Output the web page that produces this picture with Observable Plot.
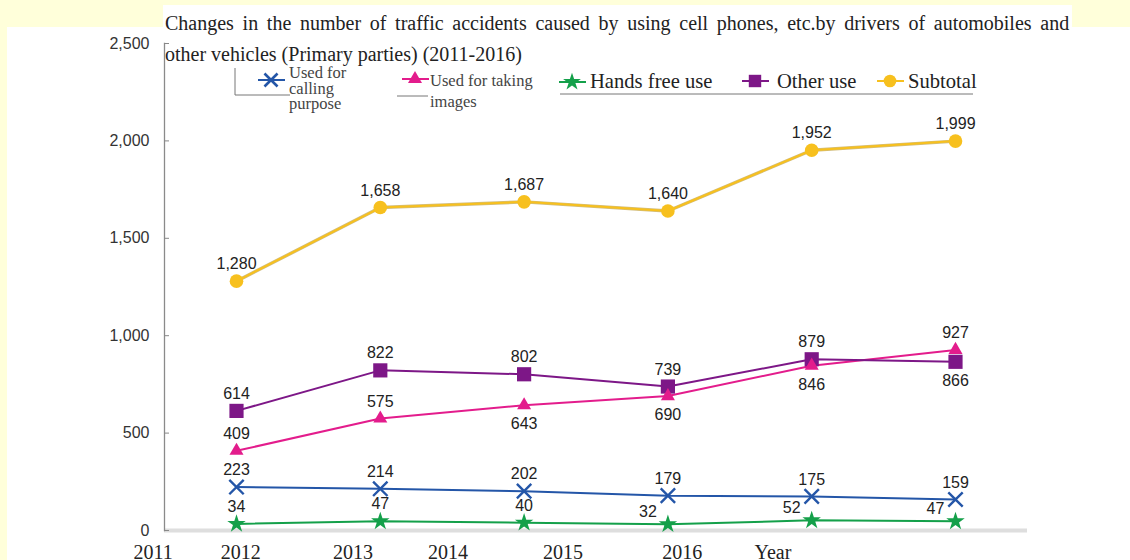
<!DOCTYPE html>
<html><head><meta charset="utf-8">
<script src="https://cdn.jsdelivr.net/npm/d3@7"></script>
<script src="https://cdn.jsdelivr.net/npm/@observablehq/plot@0.6"></script>
<style>
body{margin:0;background:#FFFFDA;}
#wrap{position:relative;width:1130px;height:560px;overflow:hidden;font-family:"Liberation Serif",serif;color:#222;}
.w1{position:absolute;left:7px;top:27px;width:1123px;height:533px;background:#fff}
.w2{position:absolute;left:163px;top:5px;width:909px;height:24px;background:#fff}
#title{position:absolute;left:165px;top:8px;font-size:20px;line-height:31px;white-space:nowrap;color:#222}
#title .l1{word-spacing:3.7px}
#chart{position:absolute;left:0;top:0}
#legend{position:absolute;left:0;top:0}
</style></head>
<body>
<div id="wrap">
  <div class="w1"></div><div class="w2"></div>
  <div id="title"><span class="l1">Changes in the number of traffic accidents caused by using cell phones, etc.by drivers of automobiles and</span><br>other vehicles (Primary parties) (2011-2016)</div>
  <div id="chart"></div>
  <div id="legend"></div>
</div>
<script>
// ---- data ----
const years = [2011, 2012, 2013, 2014, 2015, 2016];
const calling = [223, 214, 202, 179, 175, 159];
const images = [409, 575, 643, 690, 846, 927];
const handsFree = [34, 47, 40, 32, 52, 47];
const otherUse = [614, 822, 802, 739, 879, 866];
const subtotal = [1280, 1658, 1687, 1640, 1952, 1999];
const yTicks = [0, 500, 1000, 1500, 2000, 2500];
const xLabels = ["2011", "2012", "2013", "2014", "2015", "2016", "Year"];
const xLabelAt = [2010.42, 2011.03, 2011.81, 2012.47, 2013.27, 2014.10, 2014.73];
const seriesKeys = ["calling", "images", "handsFree", "otherUse", "subtotal"];
const seriesNames = ["Used for calling purpose", "Used for taking images", "Hands free use", "Other use", "Subtotal"];

// ---- presentation ----
const colors = ["#2456a8", "#e31c8c", "#14a04a", "#7d1787", "#f7c01e"];
const place = {
  calling: ["a","a","a","a","a","a"],
  images: ["a","a","b","b","b","a"],
  handsFree: ["a","a","a","l","l","l"],
  otherUse: ["a","a","a","a","a","b"],
  subtotal: ["a","a","a","a","a","a"]
};
const valuesByKey = {calling, images, handsFree, otherUse, subtotal};
const rows = [];
seriesKeys.forEach(k => valuesByKey[k].forEach((v, i) => rows.push({series: k, year: years[i], value: v, place: place[k][i]})));
const xRows = xLabels.map((label, i) => ({label, at: xLabelAt[i]}));
const fmt = d3.format(",");
const sans = "Liberation Sans, Arial, sans-serif";

const by = k => d => d.series === k;
const chart = Plot.plot({
  width: 1130, height: 560,
  marginLeft: 164, marginRight: 103, marginTop: 43, marginBottom: 30,
  x: {domain: [2011, 2016], range: [236, 955], axis: null},
  y: {domain: [0, 2500], range: [530, 43], label: null},
  color: {domain: seriesKeys, range: colors},
  style: {background: "transparent", overflow: "visible"},
  marks: [
    Plot.ruleY([0], {stroke: "#dedede", strokeWidth: 4}),
    Plot.frame({anchor: "left", stroke: "#8a8a8a", strokeWidth: 1.3}),
    Plot.axisY(yTicks, {tickSize: 0, tickPadding: 15, tickFormat: fmt, fontSize: 16, fontFamily: sans, fill: "#333", label: null}),
    Plot.axisY(yTicks, {tickSize: -5, fill: "none", stroke: "#888", label: null}),
    Plot.line(rows, {filter: by("subtotal"), x: "year", y: "value", stroke: "#d2bd7c", strokeWidth: 3.4}),
    Plot.line(rows, {x: "year", y: "value", z: "series", stroke: "series", strokeWidth: 2}),
    Plot.dot(rows, {filter: by("calling"), x: "year", y: "value", symbol: "times", stroke: "series", strokeWidth: 2.4, r: 6.6}),
    Plot.dot(rows, {filter: by("handsFree"), x: "year", y: "value", symbol: "star", fill: "series", r: 5.8}),
    Plot.dot(rows, {filter: by("otherUse"), x: "year", y: "value", symbol: "square", fill: "series", r: 8}),
    Plot.dot(rows, {filter: by("images"), x: "year", y: "value", symbol: "triangle", fill: "series", r: 5.2}),
    Plot.dot(rows, {filter: by("subtotal"), x: "year", y: "value", symbol: "circle", fill: "series", r: 6.8}),
    Plot.text(rows, {filter: d => d.place === "a", x: "year", y: "value", text: d => fmt(d.value), dy: -17, fontSize: 16, fontFamily: sans, fill: "#222"}),
    Plot.text(rows, {filter: d => d.place === "b", x: "year", y: "value", text: d => fmt(d.value), dy: 19, fontSize: 16, fontFamily: sans, fill: "#222"}),
    Plot.text(rows, {filter: d => d.place === "l", x: "year", y: "value", text: d => fmt(d.value), dx: -20, dy: -12, fontSize: 16, fontFamily: sans, fill: "#222"}),
    Plot.text(xRows, {x: "at", text: "label", frameAnchor: "bottom", lineAnchor: "bottom", dy: 28, fontSize: 20, fontFamily: "Liberation Serif, serif", fill: "#222"})
  ]
});
document.getElementById("chart").appendChild(chart);

// ---- legend ----
const leg = d3.select("#legend").append("svg").attr("width", 1130).attr("height", 130)
  .style("font-family", "Liberation Serif, serif");
const g = "#777";
leg.append("path").attr("d", "M235,68V95H290").attr("fill", "none").attr("stroke", g);
leg.append("path").attr("d", "M397,96H428").attr("fill", "none").attr("stroke", g);
leg.append("path").attr("d", "M560,94H973").attr("fill", "none").attr("stroke", g);
const items = [
  {x: 271, y: 80, type: d3.symbolTimes, r: 6, stroke: true},
  {x: 415, y: 79, type: d3.symbolTriangle, r: 5.2},
  {x: 572, y: 82, type: d3.symbolStar, r: 5.6},
  {x: 755, y: 81, type: d3.symbolSquare, r: 7},
  {x: 890, y: 81, type: d3.symbolCircle, r: 6.3}
];
items.forEach((it, i) => {
  leg.append("path").attr("d", `M${it.x - 13},${it.y}H${it.x + 14}`).attr("stroke", colors[i]).attr("stroke-width", 2);
  const p = leg.append("path").attr("transform", `translate(${it.x},${it.y})`)
    .attr("d", d3.symbol(it.type, Math.PI * it.r * it.r)());
  if (it.stroke) p.attr("fill", "none").attr("stroke", colors[i]).attr("stroke-width", 2.6);
  else p.attr("fill", colors[i]);
});
const small = [
  {x: 289, y: 78, t: "Used for"}, {x: 289, y: 93.5, t: "calling"}, {x: 289, y: 109, t: "purpose"},
  {x: 430, y: 86, t: "Used for taking"}, {x: 430, y: 107, t: "images"}
];
small.forEach(s => leg.append("text").attr("x", s.x).attr("y", s.y).attr("font-size", 16.5).attr("fill", "#444").text(s.t));
const big = [{x: 590, t: seriesNames[2]}, {x: 777, t: seriesNames[3]}, {x: 908, t: seriesNames[4]}];
big.forEach(s => leg.append("text").attr("x", s.x).attr("y", 88).attr("font-size", 20.6).attr("fill", "#222").text(s.t));
</script>
</body></html>
